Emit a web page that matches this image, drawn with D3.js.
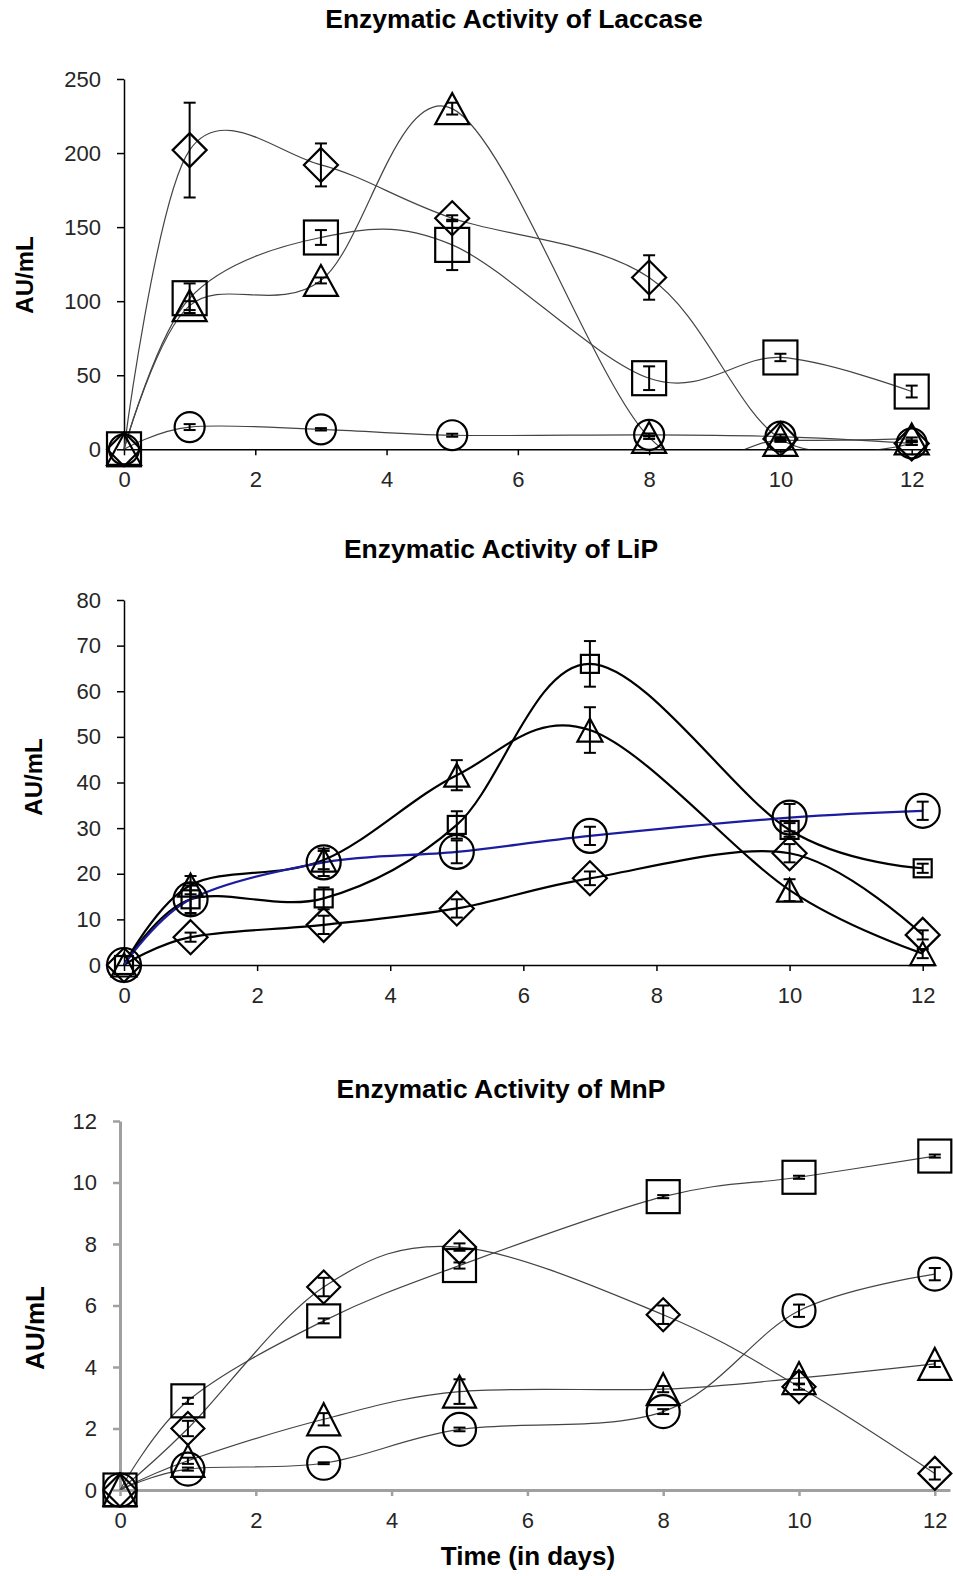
<!DOCTYPE html>
<html lang="en">
<head>
<meta charset="UTF-8">
<title>Enzymatic activity</title>
<script src="https://d3js.org/d3.v7.min.js"></script>
<style>
  body { margin: 0; background: #fff; }
  svg { display: block; font-family: "Liberation Sans", Arial, sans-serif; }
  .tick text { fill: #262626; font-size: 22px; }
</style>
</head>
<body>
<div id="chart"></div>
<script>
// sampling days
var days = [0, 1, 3, 5, 8, 10, 12];
var lipDays = [0, 1, 3, 5, 7, 10, 12];
var xTicks = [0, 2, 4, 6, 8, 10, 12];

// Laccase (AU/mL) and error bars
var lacDiamond = [0, 202, 192, 156, 116, 7, 4];
var lacDiamondErr = [0, 32, 14.5, 2, 15, 1, 1];
var lacSquare = [0, 102, 143, 138, 48, 62, 39];
var lacSquareErr = [0, 10, 5, 17, 8, 2.5, 4];
var lacTriangle = [0, 97, 114, 230, 8, 6, 7];
var lacTriangleErr = [0, 3, 2, 4, 1, 1, 1];
var lacCircle = [0, 15, 13.5, 9.5, 9.7, 8.5, 4];
var lacCircleErr = [0, 2, 0.8, 1, 1, 1.5, 1];
var lacTicks = [0, 50, 100, 150, 200, 250];

// LiP
var lipSquare = [0, 14.4, 14.6, 30.7, 66, 29.6, 21.2];
var lipSquareErr = [0, 3.5, 2.4, 3, 5, 1.5, 1];
var lipTriangle = [0, 17.5, 23, 41.6, 51.5, 16.4, 2.5];
var lipTriangleErr = [0, 2, 2, 3.3, 5, 2.4, 1];
var lipCircle = [0, 14.4, 22.5, 24.8, 28.3, 32.3, 33.8];
var lipCircleErr = [0, 3, 3, 2.5, 2, 3, 2];
var lipDiamond = [0, 6.1, 8.8, 12.4, 19, 24.5, 6.6];
var lipDiamondErr = [0, 1, 2, 2, 1.5, 2, 1];
var lipTicks = [0, 10, 20, 30, 40, 50, 60, 70, 80];

// MnP
var mnpSquare = [0, 2.9, 5.5, 7.3, 9.54, 10.17, 10.86];
var mnpSquareErr = [0, 0.1, 0.08, 0.1, 0.05, 0.05, 0.05];
var mnpDiamond = [0, 2.0, 6.6, 7.9, 5.7, 3.36, 0.54];
var mnpDiamondErr = [0, 0.25, 0.3, 0.12, 0.3, 0.1, 0.2];
var mnpTriangle = [0, 0.95, 2.3, 3.2, 3.28, 3.64, 4.1];
var mnpTriangleErr = [0, 0.1, 0.2, 0.4, 0.1, 0.2, 0.1];
var mnpCircle = [0, 0.68, 0.87, 1.97, 2.55, 5.83, 7.02];
var mnpCircleErr = [0, 0.05, 0.03, 0.06, 0.08, 0.2, 0.2];
var mnpTicks = [0, 2, 4, 6, 8, 10, 12];

var W = 953, H = 1576;
var svg = d3.select("#chart").append("svg")
    .attr("width", W)
    .attr("height", H);
svg.append("rect").attr("width", W).attr("height", H).attr("fill", "#fff");
var defs = svg.append("defs");

var panels = [
  {
    title: "Enzymatic Activity of Laccase", titleX: 514, titleY: 28,
    x0: 124, x12: 911.7, xEnd: 930, yTop: 79, yBot: 449.3,
    yMax: 250, yTicks: lacTicks, labelX: 24, labelY: 275, labelSize: 24,
    axisColor: "#000", axisW: 1.5,
    days: days,
    series: [
      { shape: "diamond", v: lacDiamond, e: lacDiamondErr, w: 34, h: 34 },
      { shape: "square", v: lacSquare, e: lacSquareErr, w: 34, h: 34 },
      { shape: "triangle", v: lacTriangle, e: lacTriangleErr, w: 34, h: 31 },
      { shape: "circle", v: lacCircle, e: lacCircleErr, w: 30, h: 30 }
    ],
    lineColor: "#444", lineW: 1.2
  },
  {
    title: "Enzymatic Activity of LiP", titleX: 501, titleY: 558,
    x0: 124, x12: 922.7, xEnd: 935, yTop: 600, yBot: 965,
    yMax: 80, yTicks: lipTicks, labelX: 33, labelY: 777, labelSize: 24,
    axisColor: "#000", axisW: 1.5,
    days: lipDays,
    series: [
      { shape: "square", v: lipSquare, e: lipSquareErr, w: 18, h: 18 },
      { shape: "triangle", v: lipTriangle, e: lipTriangleErr, w: 25, h: 23 },
      { shape: "diamond", v: lipDiamond, e: lipDiamondErr, w: 34, h: 34 },
      { shape: "circle", v: lipCircle, e: lipCircleErr, w: 34, h: 34, color: "#1c1ca0" }
    ],
    lineColor: "#000", lineW: 2.2
  },
  {
    title: "Enzymatic Activity of MnP", titleX: 501, titleY: 1098,
    x0: 120, x12: 934.8, xEnd: 950, yTop: 1121, yBot: 1490,
    yMax: 12, yTicks: mnpTicks, labelX: 35, labelY: 1328, labelSize: 26,
    axisColor: "#a0a0a0", axisW: 3,
    days: days,
    series: [
      { shape: "square", v: mnpSquare, e: mnpSquareErr, w: 33, h: 33 },
      { shape: "diamond", v: mnpDiamond, e: mnpDiamondErr, w: 33, h: 33 },
      { shape: "triangle", v: mnpTriangle, e: mnpTriangleErr, w: 33, h: 32 },
      { shape: "circle", v: mnpCircle, e: mnpCircleErr, w: 33, h: 33 }
    ],
    lineColor: "#444", lineW: 1.2
  }
];

function drawMarker(g, shape, cx, cy, w, h) {
  if (shape === "circle") {
    g.append("circle").attr("cx", cx).attr("cy", cy).attr("r", w / 2);
  } else if (shape === "square") {
    g.append("rect").attr("x", cx - w / 2).attr("y", cy - h / 2)
      .attr("width", w).attr("height", h);
  } else if (shape === "diamond") {
    g.append("path").attr("d", "M" + cx + "," + (cy - h / 2) + "L" + (cx + w / 2) + "," + cy +
      "L" + cx + "," + (cy + h / 2) + "L" + (cx - w / 2) + "," + cy + "Z");
  } else {
    g.append("path").attr("d", "M" + cx + "," + (cy - h / 2) + "L" + (cx + w / 2) + "," + (cy + h / 2) +
      "L" + (cx - w / 2) + "," + (cy + h / 2) + "Z");
  }
}

panels.forEach(function(p, k) {
  var xMax = 12 * (p.xEnd - p.x0) / (p.x12 - p.x0);
  var x = d3.scaleLinear().domain([0, xMax]).range([p.x0, p.xEnd]);
  var y = d3.scaleLinear().domain([0, p.yMax]).range([p.yBot, p.yTop]);

  // lines are clipped at the x axis, like the plot area
  defs.append("clipPath").attr("id", "clip" + k)
    .append("rect").attr("x", 0).attr("y", 0).attr("width", W).attr("height", p.yBot);

  // axes
  var xa = svg.append("g")
      .attr("transform", "translate(0," + p.yBot + ")")
      .call(d3.axisBottom(x).tickValues(xTicks).tickSize(6).tickSizeOuter(0).tickPadding(16));
  var ya = svg.append("g")
      .attr("transform", "translate(" + p.x0 + ",0)")
      .call(d3.axisLeft(y).tickValues(p.yTicks).tickSize(7).tickSizeOuter(0).tickPadding(16));
  [xa, ya].forEach(function(a) {
    a.select(".domain").attr("stroke", p.axisColor).attr("stroke-width", p.axisW);
    a.selectAll(".tick line").attr("stroke", p.axisColor).attr("stroke-width", p.axisW === 3 ? 2.5 : 1.5);
    a.selectAll(".tick text").attr("font-family", "Liberation Sans, Arial, sans-serif");
  });

  // titles
  svg.append("text")
    .attr("x", p.titleX).attr("y", p.titleY)
    .attr("text-anchor", "middle")
    .attr("font-weight", "bold").attr("font-size", 26.5)
    .text(p.title);
  svg.append("text")
    .attr("transform", "translate(" + p.labelX + "," + p.labelY + ") rotate(-90)")
    .attr("text-anchor", "middle").attr("dy", "0.36em")
    .attr("font-weight", "bold").attr("font-size", p.labelSize)
    .text("AU/mL");

  var line = d3.line()
      .x(function(d) { return x(d[0]); })
      .y(function(d) { return y(d[1]); })
      .curve(d3.curveCardinal.tension(0));

  // lines
  var lines = svg.append("g").attr("clip-path", "url(#clip" + k + ")");
  p.series.forEach(function(s) {
    var pts = p.days.map(function(d, i) { return [d, s.v[i]]; });
    lines.append("path")
      .attr("d", line(pts))
      .attr("fill", "none")
      .attr("stroke", s.color || p.lineColor)
      .attr("stroke-width", p.lineW);
  });

  // markers and error bars
  p.series.forEach(function(s) {
    var g = svg.append("g").attr("fill", "none").attr("stroke", "#000").attr("stroke-width", 2.2);
    p.days.forEach(function(d, i) {
      drawMarker(g, s.shape, x(d), y(s.v[i]), s.w, s.h);
    });
    var eb = svg.append("g").attr("stroke", "#000").attr("stroke-width", 2);
    p.days.forEach(function(d, i) {
      if (!s.e[i]) return;
      var cx = x(d), lo = y(s.v[i] - s.e[i]), hi = y(s.v[i] + s.e[i]);
      eb.append("line").attr("x1", cx).attr("x2", cx).attr("y1", lo).attr("y2", hi);
      eb.append("line").attr("x1", cx - 6).attr("x2", cx + 6).attr("y1", lo).attr("y2", lo);
      eb.append("line").attr("x1", cx - 6).attr("x2", cx + 6).attr("y1", hi).attr("y2", hi);
    });
  });
});

svg.append("text")
  .attr("x", 528).attr("y", 1565)
  .attr("text-anchor", "middle")
  .attr("font-weight", "bold").attr("font-size", 26)
  .text("Time (in days)");
</script>
</body>
</html>
